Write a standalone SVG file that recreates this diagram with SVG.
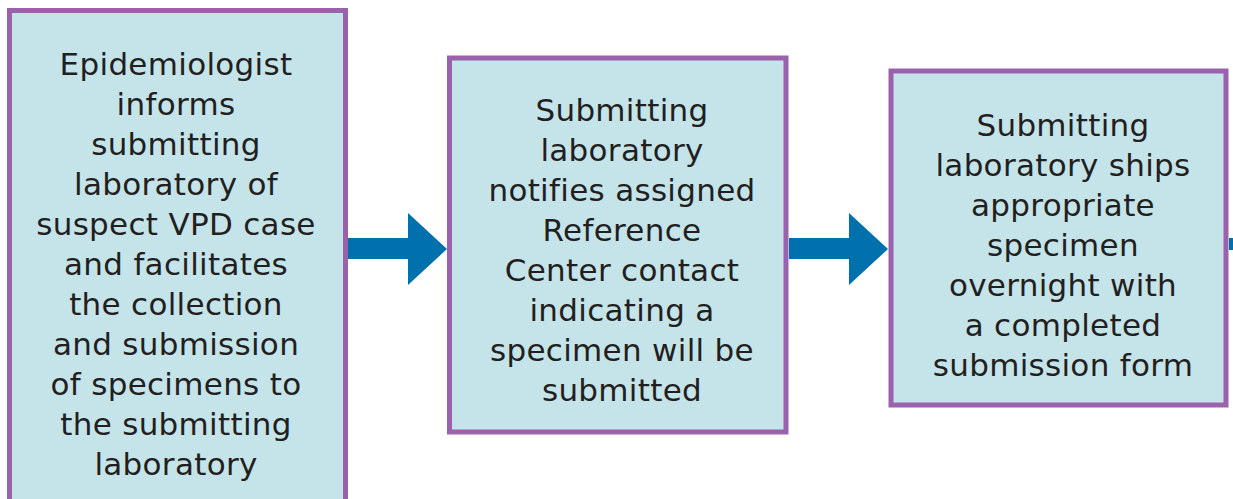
<svg xmlns="http://www.w3.org/2000/svg" width="1233" height="499" viewBox="0 0 1233 499">
<style>
.box{fill:#c5e4ea;stroke:#9b62ac;stroke-width:5}
.t{font-family:"DejaVu Sans","Open Sans",sans-serif;font-size:31px;letter-spacing:0.3px;fill:#231f20;text-anchor:middle}
.arr{fill:#0071ad}
</style>
<rect width="1233" height="499" fill="#ffffff"/>
<g id="node1">
<rect class="box" x="9.5" y="10.5" width="336" height="500"/>
<text class="t"><tspan x="176" y="75">Epidemiologist</tspan><tspan x="176" y="115">informs</tspan><tspan x="176" y="155">submitting</tspan><tspan x="176" y="195">laboratory of</tspan><tspan x="176" y="235">suspect VPD case</tspan><tspan x="176" y="275">and facilitates</tspan><tspan x="176" y="315">the collection</tspan><tspan x="176" y="355">and submission</tspan><tspan x="176" y="395">of specimens to</tspan><tspan x="176" y="435">the submitting</tspan><tspan x="176" y="475">laboratory</tspan></text>
</g>
<g id="node2">
<rect class="box" x="449.5" y="58" width="336.5" height="374"/>
<text class="t"><tspan x="622" y="121">Submitting</tspan><tspan x="622" y="161">laboratory</tspan><tspan x="622" y="201">notifies assigned</tspan><tspan x="622" y="241">Reference</tspan><tspan x="622" y="281">Center contact</tspan><tspan x="622" y="321">indicating a</tspan><tspan x="622" y="361">specimen will be</tspan><tspan x="622" y="401">submitted</tspan></text>
</g>
<g id="node3">
<rect class="box" x="891" y="71" width="335" height="334"/>
<text class="t"><tspan x="1063" y="136">Submitting</tspan><tspan x="1063" y="176">laboratory ships</tspan><tspan x="1063" y="216">appropriate</tspan><tspan x="1063" y="256">specimen</tspan><tspan x="1063" y="296">overnight with</tspan><tspan x="1063" y="336">a completed</tspan><tspan x="1063" y="376">submission form</tspan></text>
</g>
<g id="connectors">
<polygon class="arr" points="348,238 408,238 408,213 447,249 408,285 408,259 348,259"/>
<polygon class="arr" points="789,238 849,238 849,213 888,249 849,285 849,259 789,259"/>
<rect class="arr" x="1229" y="238" width="4" height="12"/>
</g>
</svg>
